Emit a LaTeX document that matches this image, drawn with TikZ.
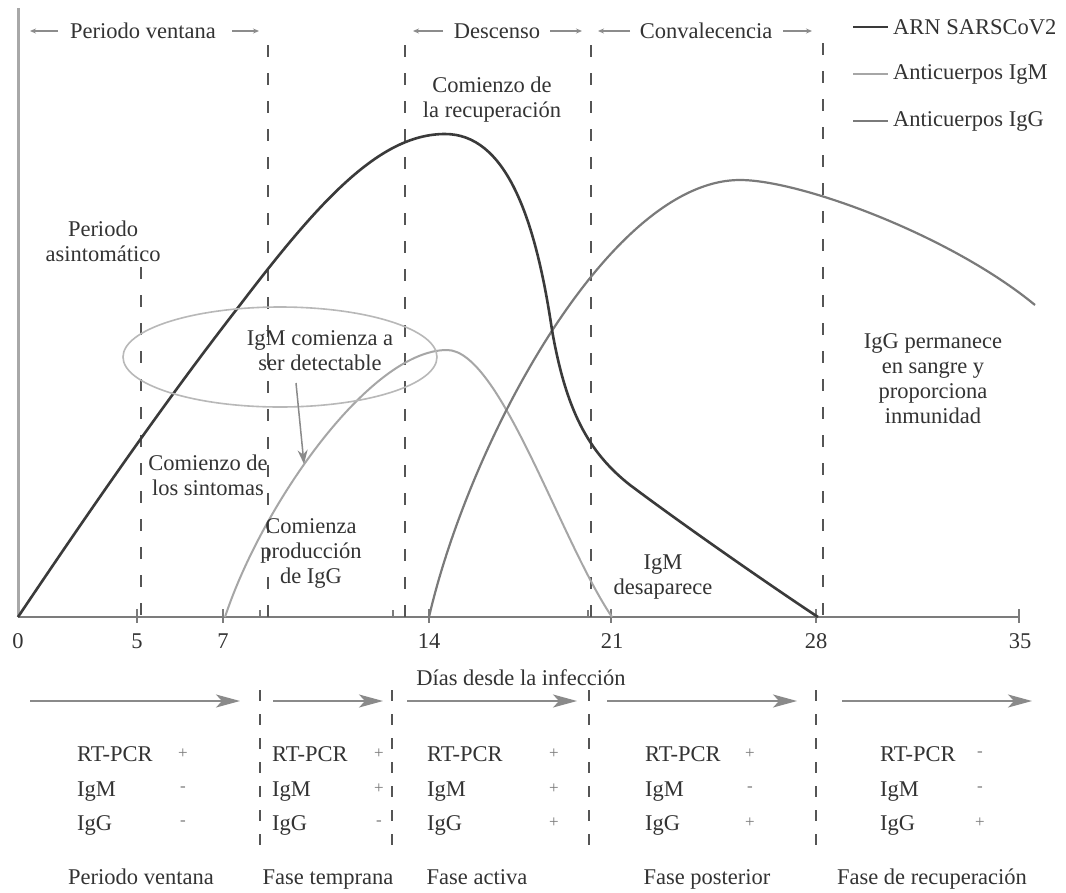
\documentclass[tikz,border=0pt]{standalone}
\usepackage{fontspec}
\setmainfont{Liberation Serif}
\usetikzlibrary{arrows.meta,shapes.geometric}
\definecolor{txt}{HTML}{333333}
\definecolor{sg}{HTML}{7A7A7A}
\definecolor{dsh}{HTML}{555555}
\definecolor{ta}{HTML}{8C8C8C}
\definecolor{ba}{HTML}{8A8A8A}
\definecolor{arnc}{HTML}{3A3A3A}
\definecolor{igmc}{HTML}{A6A6A6}
\definecolor{iggc}{HTML}{7A7A7A}
\definecolor{axc}{HTML}{A8A8A8}
\definecolor{xac}{HTML}{7C7C7C}
\definecolor{elc}{HTML}{B8B8B8}
\begin{document}
\begin{tikzpicture}[x={(1pt,0pt)},y={(0pt,-1pt)},
  lbl/.style={font=\fontsize{22.5}{25}\selectfont, text=txt, inner sep=0pt},
  ml/.style={lbl, align=center},
  sgn/.style={font=\fontsize{17}{17}\selectfont, text=sg, inner sep=0pt},
  vdash/.style={draw=dsh, line width=1.5pt, dash pattern=on 12pt off 16pt},
  toparr/.style={draw=ta, line width=1.2pt, -{Stealth[length=6pt,width=5pt]}},
  botarr/.style={draw=ba, line width=1.6pt, -{Stealth[length=24pt,width=13pt,inset=6pt]}},
  sepline/.style={draw=dsh, line width=1.3pt, dash pattern=on 11pt off 13pt},
  arn/.style={draw=arnc, line width=2.6pt},
  igm/.style={draw=igmc, line width=2pt},
  igg/.style={draw=iggc, line width=2.2pt}]
\useasboundingbox (0,0) rectangle (1066,892);
\fill[white] (0,0) rectangle (1066,892);

% axes
\coordinate (O) at (18,617);
\coordinate (Ytop) at (18,8);
\coordinate (Xend) at (1020,617);
\draw[draw=axc, line width=3pt] (Ytop) -- (O);
\draw[draw=xac, line width=1.8pt] (O) -- (Xend);
\foreach \x in {137,223,429,611,816,1019} \draw[draw=xac, line width=1.4pt] (\x,609) -- (\x,623);
\foreach \x in {260,393,588} \draw[draw=xac, line width=1.2pt] (\x,610) -- (\x,617);
\foreach \x/\t in {18/0,137/5,223/7,429/14,612/21,816/28,1020/35}
  \node[lbl] (tick\t) at (\x,641) {\t};
\node[lbl] (xlab) at (521,678) {Días desde la infección};

% vertical dashed lines
\draw[vdash] (141,267) -- (141,617);
\draw[vdash] (268,45) -- (268,617);
\draw[vdash] (405,45) -- (405,617);
\draw[vdash] (591,45) -- (591,617);
\draw[vdash] (823,43) -- (823,617);

% curves
\draw[igm] (225,617) .. controls (262,505) and (370,350) .. (447,350)
                     .. controls (500,350) and (560,540) .. (612,617);
\draw[igg] (429,617) .. controls (470,440) and (610,180) .. (740,180)
                     .. controls (800,180) and (950,235) .. (1035,305);
\draw[arn] (18,617) .. controls (100,495) and (170,395) .. (240,305)
                    .. controls (320,200) and (380,134) .. (445,134)
                    .. controls (505,134) and (535,215) .. (552,330)
                    .. controls (566,410) and (588,452) .. (630,485)
                    .. controls (690,530) and (780,592) .. (818,617);

% top labels
\node[lbl] (pv) at (143,31) {Periodo ventana};
\coordinate (pvl1) at (58,31); \coordinate (pvl2) at (30,31);
\coordinate (pvr1) at (232,31); \coordinate (pvr2) at (259,31);
\draw[toparr] (pvl1) -- (pvl2);
\draw[toparr] (pvr1) -- (pvr2);
\node[lbl] (desc) at (497,31) {Descenso};
\coordinate (dl1) at (443,31); \coordinate (dl2) at (413,31);
\coordinate (dr1) at (550,31); \coordinate (dr2) at (582,31);
\draw[toparr] (dl1) -- (dl2);
\draw[toparr] (dr1) -- (dr2);
\node[lbl] (conv) at (706,31) {Convalecencia};
\coordinate (cl1) at (630,31); \coordinate (cl2) at (598,31);
\coordinate (cr1) at (783,31); \coordinate (cr2) at (812,31);
\draw[toparr] (cl1) -- (cl2);
\draw[toparr] (cr1) -- (cr2);

% legend
\draw[arn] (853,27) -- (888,27);
\node[lbl, anchor=west] (legA) at (893,27) {ARN SARSCoV2};
\draw[igm, line width=1.6pt] (853,74) -- (888,74);
\node[lbl, anchor=west] (legM) at (893,74) {Anticuerpos IgM};
\draw[igg] (853,121) -- (888,121);
\node[lbl, anchor=west] (legG) at (893,121) {Anticuerpos IgG};

% annotations
\node[ml] (asint) at (103,241) {Periodo\\asintomático};
\node[ml] (recup) at (492,100) {Comienzo de\\la recuperación};
\node[draw=elc, line width=1.6pt, ellipse, minimum width=314pt, minimum height=100pt, inner sep=0pt] (ell) at (280,357) {};
\node[ml] (igmdet) at (320,351) {IgM comienza a\\ser detectable};
\coordinate (aS) at (296,383);
\coordinate (aE) at (304,464);
\draw[draw=ba, line width=1.5pt, -{Stealth[length=14pt,width=10pt]}] (aS) -- (aE);
\node[ml] (sint) at (208,475) {Comienzo de\\los sintomas};
\node[ml] (prod) at (311,553) {Comienza\\producción\\de IgG};
\node[ml] (desap) at (663,577) {IgM\\desaparece};
\node[ml] (perm) at (933,379) {IgG permanece\\en sangre y\\proporciona\\inmunidad};

% bottom arrows
\foreach \a/\b/\n in {30/240/1,273/383/2,407/577/3,607/797/4,842/1032/5}{
  \coordinate (bs\n) at (\a,701); \coordinate (be\n) at (\b,701);
  \draw[botarr] (bs\n) -- (be\n);
}
\foreach \x in {260,392,589,816} \draw[sepline] (\x,690) -- (\x,850);

% table
\foreach \lx/\sx/\a/\b/\c/\n in {77/183/+/-/-/1, 272/379/+/+/-/2, 427/554/+/+/+/3, 645/750/+/-/+/4, 880/980/-/-/+/5}{
  \node[lbl, anchor=base west] (rt\n) at (\lx,761) {RT-PCR};
  \node[lbl, anchor=base west] (im\n) at (\lx,796) {IgM};
  \node[lbl, anchor=base west] (ig\n) at (\lx,830) {IgG};
  \node[sgn] (sa\n) at (\sx,754) {\a};
  \node[sgn] (sb\n) at (\sx,789) {\b};
  \node[sgn] (sc\n) at (\sx,823) {\c};
}
\node[lbl, anchor=base] (ph1) at (141,884) {Periodo ventana};
\node[lbl, anchor=base] (ph2) at (328,884) {Fase temprana};
\node[lbl, anchor=base] (ph3) at (477,884) {Fase activa};
\node[lbl, anchor=base] (ph4) at (707,884) {Fase posterior};
\node[lbl, anchor=base] (ph5) at (932,884) {Fase de recuperación};
\end{tikzpicture}
\end{document}
